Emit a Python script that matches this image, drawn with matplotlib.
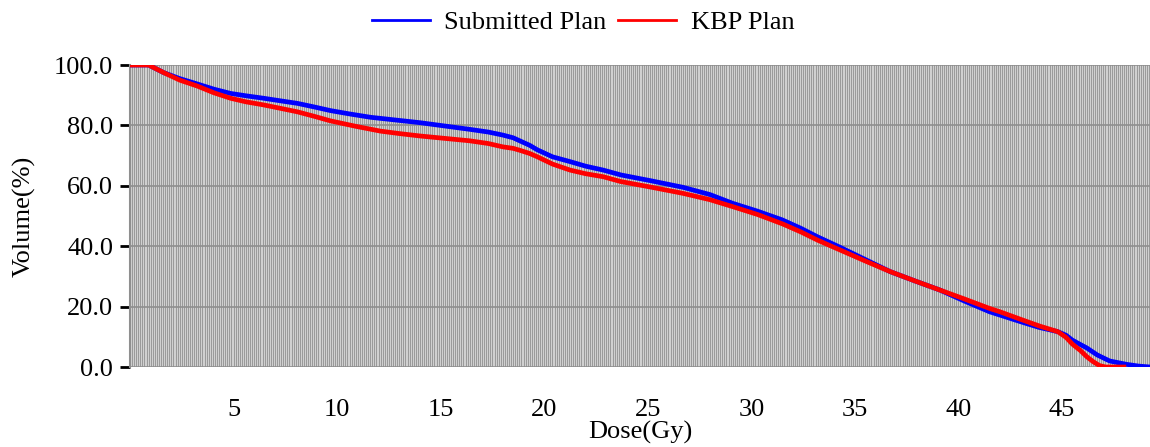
import numpy as np
import matplotlib
matplotlib.use("Agg")
import matplotlib.pyplot as plt
from matplotlib.lines import Line2D

# ---- data ----
submitted_dose = [0, 0.9, 1.62, 2.4, 3.26, 4.05, 4.85, 5.6, 6.44, 7.3, 8.08, 8.9, 9.68, 10.6,
                  11.6, 12.8, 14.0, 15.2, 16.4, 17.3, 18.0, 18.5, 18.85, 19.3, 19.67, 20.4,
                  21.25, 22.0, 22.85, 23.7, 25.2, 26.7, 28.0, 29.1, 30.3, 31.5, 32.4,
                  33.2, 34.3, 35.5, 36.7, 37.9, 39.1, 40.3, 41.5, 42.0, 43.0, 43.9,
                  44.8, 45.2, 45.5, 45.9, 46.2, 46.7, 47.3, 48.1, 48.7, 49.25]
submitted_vol = [100, 100, 97.5, 95.5, 93.7, 92.0, 90.6, 89.8, 89.0, 88.1, 87.3, 86.1,
                 84.9, 83.8, 82.7, 81.8, 80.9, 79.8, 78.7, 77.8, 76.8, 75.9, 74.8, 73.4,
                 71.9, 69.6, 68.0, 66.5, 65.2, 63.6, 61.6, 59.5, 57.1, 54.2, 51.6, 48.7,
                 45.9, 43.1, 39.6, 35.6, 31.6, 28.5, 25.5, 21.8, 18.3, 17.2, 15.0, 13.1,
                 11.7, 10.5, 8.9, 7.4, 6.3, 4.0, 2.0, 0.9, 0.3, 0.0]

kbp_dose = [0, 0.9, 1.62, 2.4, 3.26, 4.05, 4.85, 5.6, 6.44, 7.3, 8.08, 8.9, 9.68, 10.9,
            12.1, 13.0, 14.0, 15.2, 16.4, 17.3, 18.0, 18.5, 18.85, 19.3, 19.67, 20.4,
            21.25, 22.0, 22.85, 23.7, 25.2, 26.7, 28.0, 29.1, 30.3, 31.5, 32.4,
            33.2, 34.3, 35.5, 36.7, 37.9, 39.1, 40.3, 41.5, 42.0, 43.0, 43.9,
            44.8, 45.2, 45.5, 45.9, 46.2, 46.5, 46.8, 47.1, 48.1]
kbp_vol = [100, 100, 97.5, 95.0, 93.0, 90.8, 89.0, 87.8, 86.8, 85.6, 84.5, 83.0,
           81.5, 79.7, 78.1, 77.3, 76.5, 75.7, 74.9, 74.0, 72.9, 72.4, 71.7, 70.7,
           69.6, 67.2, 65.2, 64.0, 63.0, 61.4, 59.5, 57.5, 55.4, 53.1, 50.5, 47.4,
           44.7, 42.0, 38.7, 35.1, 31.6, 28.5, 25.5, 22.5, 19.4, 18.3, 15.8, 13.6,
           11.7, 9.8, 7.6, 5.4, 3.4, 1.8, 0.5, 0.0, 0.0]

x_ticks = [5, 10, 15, 20, 25, 30, 35, 40, 45]
y_ticks = [0, 20, 40, 60, 80, 100]
series_names = ["Submitted Plan", "KBP Plan"]

plt.rcParams['font.family'] = ['Liberation Serif', 'DejaVu Serif']
FS = 19

fig = plt.figure(figsize=(11.5, 4.47), dpi=100)
ax = fig.add_axes([130/1150, 80/447, 1 - 130/1150, (367-65)/447])

xmax = 49.25
ax.set_xlim(0, xmax)
ax.set_ylim(0, 100)
ax.set_facecolor('#d0d0d0')

# dense vertical grid
ax.vlines(np.arange(0, xmax, 0.1), 0, 100, colors='#9a9a9a', linewidth=0.6,
          antialiased=False, zorder=0.5)
for yv in y_ticks:
    ax.axhline(yv, color='#8f8f8f', linewidth=1.2, zorder=0.6)

ax.plot(submitted_dose, submitted_vol, color='#0000ff', linewidth=3.4, zorder=3,
        solid_capstyle='butt', solid_joinstyle='round')
ax.plot(kbp_dose, kbp_vol, color='#ff0000', linewidth=3.4, zorder=4,
        solid_capstyle='butt', solid_joinstyle='round')

for s in ['top', 'right', 'bottom']:
    ax.spines[s].set_visible(False)
ax.spines['left'].set_color('#8f8f8f')
ax.spines['left'].set_linewidth(1.5)

ax.set_xticks(x_ticks)
ax.set_xticklabels([str(v) for v in x_ticks])
ax.set_yticks(y_ticks)
ax.set_yticklabels([f"{v:.1f}" for v in y_ticks])
ax.tick_params(axis='x', length=0, pad=23, labelsize=FS)
ax.tick_params(axis='y', length=7, width=2, color='black', direction='out',
               pad=5, labelsize=FS)

ax.set_xlabel("Dose(Gy)", fontsize=FS, labelpad=0)
ax.set_ylabel("Volume(%)", fontsize=FS, labelpad=13)

handles = [Line2D([0], [0], color='#0000ff', linewidth=2),
           Line2D([0], [0], color='#ff0000', linewidth=2)]
fig.legend(handles, series_names, loc='upper center', bbox_to_anchor=(0.507, 1.03),
           ncol=2, frameon=False, fontsize=FS, handlelength=2.2,
           handletextpad=0.55, columnspacing=0.45)

fig.savefig("out.png", dpi=100)
